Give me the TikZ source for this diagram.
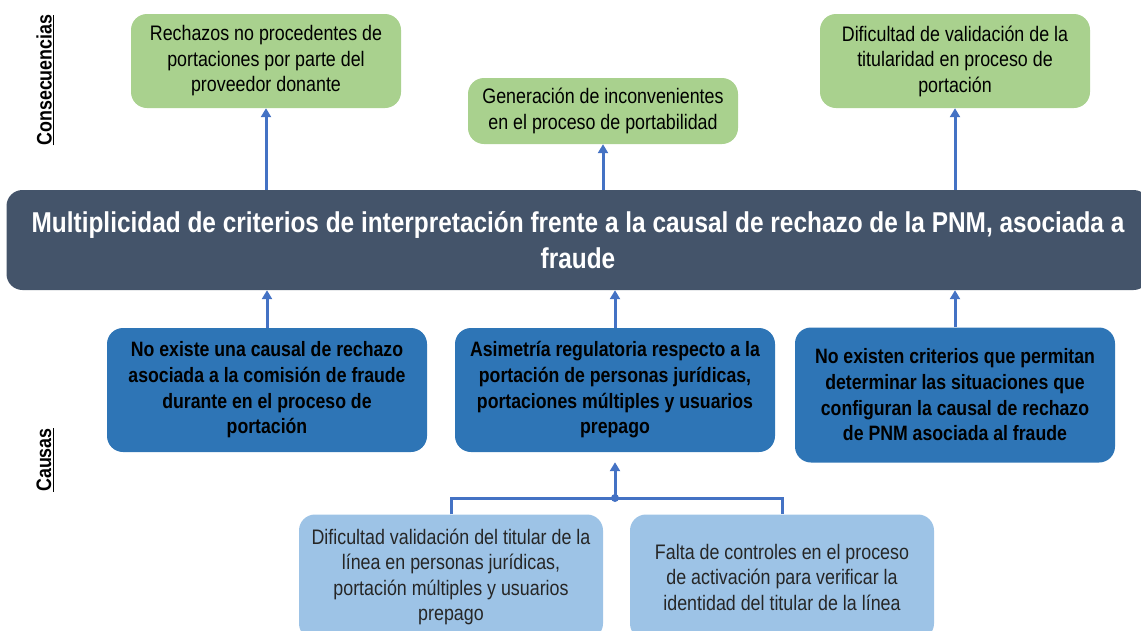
\documentclass[tikz,border=0pt]{standalone}
\usepackage{fontspec}
\setmainfont{Liberation Sans}[FakeStretch=0.85]
\usetikzlibrary{arrows.meta}
\definecolor{verde}{HTML}{A9D18E}
\definecolor{pizarra}{HTML}{44546A}
\definecolor{azul}{HTML}{2E75B6}
\definecolor{celeste}{HTML}{9DC3E6}
\definecolor{flecha}{HTML}{4472C4}
\begin{document}
\begin{tikzpicture}[x=1pt, y=-1pt, >={Triangle[width=10pt,length=9pt]},
    caja/.style={rounded corners=16pt, align=center, inner sep=0pt, font=\fontsize{21}{25.5}\selectfont},
    conse/.style={caja, fill=verde, minimum width=270pt},
    causa/.style={caja, fill=azul, minimum width=320pt, font=\bfseries\fontsize{20.8}{25.7}\selectfont},
    subcausa/.style={caja, fill=celeste, minimum width=304pt, text=black!85},
    flechita/.style={->, flecha, line width=3pt},
    titulo/.style={rotate=90, font=\bfseries\fontsize{21}{24}\selectfont}]
        \useasboundingbox (0,0) rectangle (1141,630);
        \clip (0,0) rectangle (1141,630);

        % consecuencias
        \node[conse, minimum height=94pt] (c1) at (266,61) {Rechazos no procedentes de\\portaciones por parte del\\proveedor donante};
        \node[conse, minimum height=66pt] (c2) at (603,111) {Generación de inconvenientes\\en el proceso de portabilidad};
        \node[conse, minimum height=94pt] (c3) at (955,61) {Dificultad de validación de la\\titularidad en proceso de\\portación};

        % problema central
        \node[caja, fill=pizarra, text=white, minimum width=1143pt, minimum height=100pt,
              font=\bfseries\fontsize{28.7}{36}\selectfont] (principal) at (578,240)
              {Multiplicidad de criterios de interpretación frente a la causal de rechazo de la PNM, asociada a\\fraude};

        % causas
        \node[causa, minimum height=124pt] (b1) at (267,390) {No existe una causal de rechazo\\asociada a la comisión de fraude\\durante en el proceso de\\portación};
        \node[causa, minimum height=124pt] (b2) at (615,390) {Asimetría regulatoria respecto a la\\portación de personas jurídicas,\\portaciones múltiples y usuarios\\prepago};
        \node[causa, minimum height=135pt] (b3) at (955,395) {No existen criterios que permitan\\determinar las situaciones que\\configuran la causal de rechazo\\de PNM asociada al fraude};

        % subcausas
        \node[subcausa, minimum height=125pt] (s1) at (451,577) {Dificultad validación del titular de la\\línea en personas jurídicas,\\portación múltiples y usuarios\\prepago};
        \node[subcausa, minimum height=125pt] (s2) at (782,577) {Falta de controles en el proceso\\de activación para verificar la\\identidad del titular de la línea};

        % rótulos
        \node[titulo] (tconse) at (45,80) {\underline{Consecuencias}};
        \node[titulo] (tcausa) at (45,460) {\underline{Causas}};

        % flechas
        \draw[flechita] (principal.north -| c1) -- (c1.south);
        \draw[flechita] (principal.north -| c2) -- (c2.south);
        \draw[flechita] (principal.north -| c3) -- (c3.south);
        \draw[flechita] (b1.north) -- (principal.south -| b1);
        \draw[flechita] (b2.north) -- (principal.south -| b2);
        \draw[flechita] (b3.north) -- (principal.south -| b3);

        \coordinate (union) at (615,498);
        \draw[flecha, line width=3pt] (s1.north) |- (union) -| (s2.north);
        \draw[flechita, shorten >=10pt] (union) -- (b2.south);
        \fill[flecha] (union) circle (4pt);
    \end{tikzpicture}
\end{document}
